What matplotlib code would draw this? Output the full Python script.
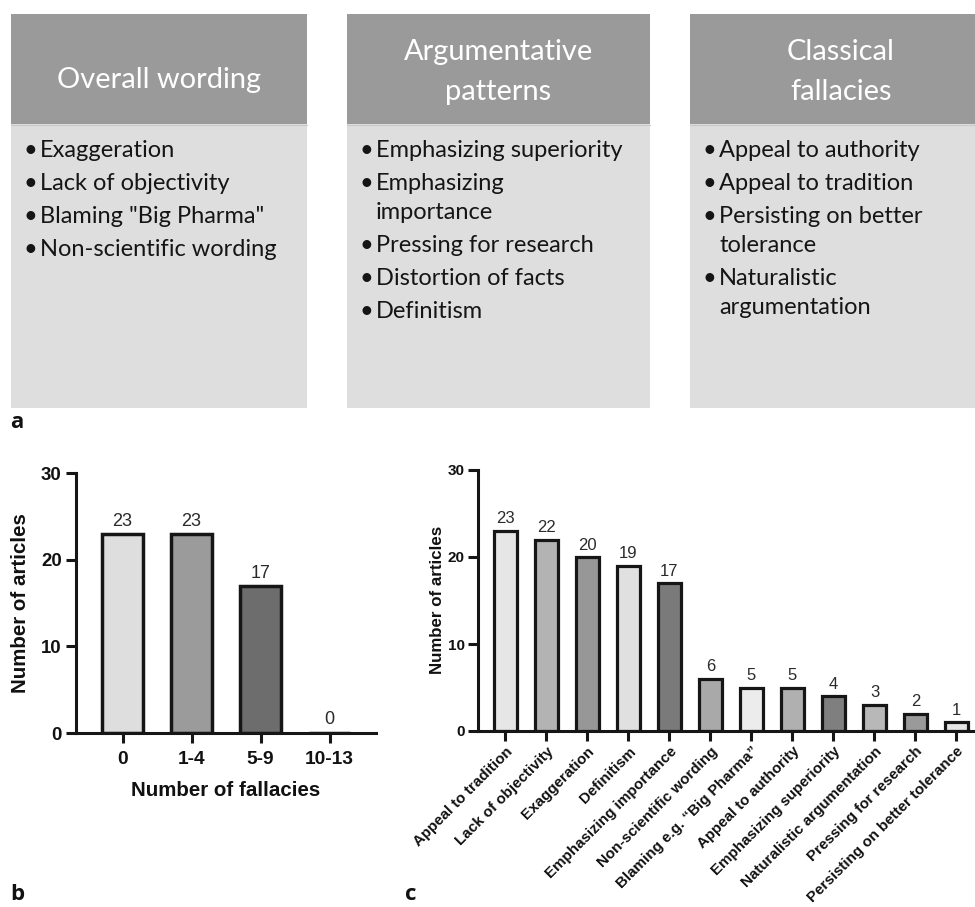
import matplotlib
matplotlib.use("Agg")
import matplotlib.pyplot as plt
from matplotlib.patches import Rectangle
import numpy as np

W, H, DPI = 975, 907, 100

# ---- Panel a: categories of argumentation ----
box_titles = ["Overall wording", "Argumentative\npatterns", "Classical\nfallacies"]
overall_wording = ["Exaggeration", "Lack of objectivity", 'Blaming "Big Pharma"',
                   "Non-scientific wording"]
argumentative_patterns = ["Emphasizing superiority", "Emphasizing\nimportance",
                          "Pressing for research", "Distortion of facts", "Definitism"]
classical_fallacies = ["Appeal to authority", "Appeal to tradition",
                       "Persisting on better\ntolerance", "Naturalistic\nargumentation"]
box_items = [overall_wording, argumentative_patterns, classical_fallacies]

# ---- Panel b: fallacies per article ----
fallacy_bins = ["0", "1-4", "5-9", "10-13"]
articles_per_bin = [23, 23, 17, 0]

# ---- Panel c: articles per fallacy type ----
fallacy_types = ["Appeal to tradition", "Lack of objectivity", "Exaggeration",
                 "Definitism", "Emphasizing importance", "Non-scientific wording",
                 "Blaming e.g. \u201cBig Pharma\u201d", "Appeal to authority",
                 "Emphasizing superiority", "Naturalistic argumentation",
                 "Pressing for research", "Persisting on better tolerance"]
articles_per_type = [23, 22, 20, 19, 17, 6, 5, 5, 4, 3, 2, 1]

colors_b = ["#dedede", "#9b9b9b", "#6d6d6d", "#cccccc"]
colors_c = ["#e6e6e6", "#b3b3b3", "#979797", "#e0e0e0", "#7a7a7a", "#a9a9a9",
            "#ececec", "#b0b0b0", "#7f7f7f", "#b8b8b8", "#9a9a9a", "#e6e6e6"]

CHART_FONT = ["Liberation Sans", "DejaVu Sans"]
BOX_FONT = ["Lato", "DejaVu Sans"]
EDGE = "#161616"

fig = plt.figure(figsize=(W / DPI, H / DPI), dpi=DPI)
fig.patch.set_facecolor("white")


def px(x, y):
    """Pixel position (from top-left) to figure fraction."""
    return x / W, 1 - y / H


# canvas axes in pixel units for the schematic boxes
ax0 = fig.add_axes([0, 0, 1, 1])
ax0.set_xlim(0, W)
ax0.set_ylim(H, 0)
ax0.axis("off")

renderer = fig.canvas.get_renderer()


def fitted_size(text, target_px, family, weight="normal", base=20):
    t = ax0.text(0, 0, text, fontsize=base, family=family, fontweight=weight)
    w = t.get_window_extent(renderer).width
    t.remove()
    return base * target_px / w


title_fs = fitted_size("Overall wording", 204, BOX_FONT)
body_fs = fitted_size("Non-scientific wording", 237, BOX_FONT)

box_left = [11, 347, 690]
box_width = [296, 303, 302]
head_top, head_bot, body_bot = 14, 124, 408

for bl, bw, title, items in zip(box_left, box_width, box_titles, box_items):
    ax0.add_patch(Rectangle((bl, head_top), bw, head_bot - head_top,
                            facecolor="#9a9a9a", edgecolor="none"))
    ax0.add_patch(Rectangle((bl, head_bot), bw, body_bot - head_bot,
                            facecolor="#dedede", edgecolor="none"))
    ax0.plot([bl, bl + bw], [head_bot + 0.5, head_bot + 0.5], color="#c9c9c9", lw=0.8)
    cx = bl + bw / 2
    lines = title.split("\n")
    baselines = [88] if len(lines) == 1 else [60, 100]
    for ln, yb in zip(lines, baselines):
        ax0.text(cx, yb, ln, ha="center", va="baseline", color="white",
                 fontsize=title_fs, family=BOX_FONT)
    yb = 157
    for item in items:
        parts = item.split("\n")
        ax0.text(bl + 19, yb, "\u2022", ha="center", va="baseline", color="#151515",
                 fontsize=body_fs, family=BOX_FONT)
        for k, part in enumerate(parts):
            ax0.text(bl + 29, yb, part, ha="left", va="baseline", color="#151515",
                     fontsize=body_fs, family=BOX_FONT)
            if k < len(parts) - 1:
                yb += 29
        yb += 33

# panel letters
for letter, (lx, ly) in zip("abc", [(10, 428), (10, 900), (405, 900)]):
    fig.text(*px(lx, ly), letter, fontsize=16, fontweight="bold",
             family=["Open Sans", "DejaVu Sans"], ha="left", va="baseline",
             color="#111111")


def style_axes(ax, tick_fs, lw=2.2, tlen=7.3):
    for s in ["top", "right"]:
        ax.spines[s].set_visible(False)
    for s in ["left", "bottom"]:
        ax.spines[s].set_linewidth(lw)
        ax.spines[s].set_color(EDGE)
        ax.spines[s].set_capstyle("projecting")
    ax.tick_params(axis="both", direction="out", length=tlen, width=lw,
                   color=EDGE, labelcolor="#111111")
    for lab in ax.get_yticklabels():
        lab.set_fontsize(tick_fs)
        lab.set_fontweight("bold")
        lab.set_family(CHART_FONT)
    ax.set_facecolor("none")


# ---- Panel b ----
axb = fig.add_axes([76 / W, 1 - 733 / H, 300 / W, 260 / H])
xb = np.arange(len(fallacy_bins))
axb.bar(xb, articles_per_bin, width=0.6, color=colors_b[:len(xb)],
        edgecolor=EDGE, linewidth=2.5, zorder=2)
axb.set_xlim(-0.674, 3.67)
axb.set_ylim(0, 30)
axb.set_yticks([0, 10, 20, 30])
axb.set_xticks(xb)
axb.set_xticklabels(fallacy_bins, fontsize=13.8, fontweight="bold", family=CHART_FONT)
style_axes(axb, 13.4)
axb.tick_params(axis="y", pad=3)
axb.tick_params(axis="x", pad=6)
for x, v in zip(xb, articles_per_bin):
    axb.annotate(str(v), (x, v), xytext=(0, 5.6 if v else 6.5),
                 textcoords="offset points", ha="center", va="baseline",
                 fontsize=13, family=CHART_FONT, color="#2a2a2a")
fig.text(*px(226, 790), "Number of fallacies", ha="center", va="center",
         fontsize=14.8, fontweight="bold", family=CHART_FONT, color="#111111")
fig.text(*px(21, 603), "Number of articles", ha="center", va="center",
         rotation=90, fontsize=14.8, fontweight="bold", family=CHART_FONT,
         color="#111111")

# ---- Panel c ----
axc = fig.add_axes([478 / W, 1 - 731 / H, (W - 478) / W, 261 / H])
xc = np.arange(len(fallacy_types))
axc.bar(xc, articles_per_type, width=0.54, color=colors_c, edgecolor=EDGE,
        linewidth=2.3, zorder=2)
axc.set_xlim(-0.67, (W - 505.5) / 41.0)
axc.set_ylim(0, 30)
axc.set_yticks([0, 10, 20, 30])
axc.set_xticks(xc)
axc.set_xticklabels(fallacy_types, rotation=45, ha="right",
                    rotation_mode="anchor", fontsize=10.9, fontweight="bold",
                    family=CHART_FONT)
style_axes(axc, 11, lw=2.2, tlen=7.5)
axc.tick_params(axis="y", pad=2)
axc.tick_params(axis="x", pad=2)
for x, v in zip(xc, articles_per_type):
    axc.annotate(str(v), (x, v), xytext=(0, 5.4), textcoords="offset points",
                 ha="center", va="baseline", fontsize=12, family=CHART_FONT,
                 color="#2a2a2a")
fig.text(*px(437, 600), "Number of articles", ha="center", va="center",
         rotation=90, fontsize=12.2, fontweight="bold", family=CHART_FONT,
         color="#111111")

fig.savefig("out.png", dpi=DPI, facecolor="white")
